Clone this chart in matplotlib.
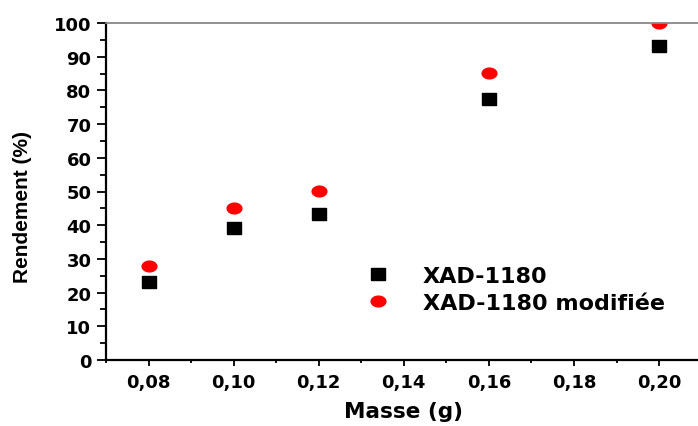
import numpy as np
import matplotlib
matplotlib.use("Agg")
import matplotlib.pyplot as plt
from matplotlib.ticker import MultipleLocator, FuncFormatter

plt.rcParams["font.family"] = ["DejaVu Sans"]
plt.rcParams["font.weight"] = "bold"

masse = [0.08, 0.10, 0.12, 0.16, 0.20]
rend_xad = [23.2, 39.2, 43.3, 77.4, 93.2]
rend_mod = [28.0, 45.1, 50.1, 85.2, 100.0]

# slightly stretched markers, as in the source picture
t = np.linspace(0, 2 * np.pi, 60)
ellipse = list(zip(1.33 * np.cos(t), np.sin(t)))
rect = [(-1.27, -1), (1.27, -1), (1.27, 1), (-1.27, 1), (-1.27, -1)]

fig = plt.figure(figsize=(6.98, 4.27), dpi=100)
ax = fig.add_axes([106 / 698, 66 / 427, (701.6 - 106) / 698, 337 / 427])

ax.plot(masse, rend_xad, ls="none", marker=rect, ms=10.1, color="black",
        label="XAD-1180")
ax.plot(masse, rend_mod, ls="none", marker=ellipse, ms=11.6, color="red",
        mec="none", label="XAD-1180 modifiée")

ax.set_xlim(0.07, 0.21)
ax.set_ylim(0, 100)
ax.xaxis.set_major_locator(MultipleLocator(0.02))
ax.xaxis.set_minor_locator(MultipleLocator(0.01))
ax.yaxis.set_major_locator(MultipleLocator(10))
ax.yaxis.set_minor_locator(MultipleLocator(5))
ax.xaxis.set_major_formatter(FuncFormatter(lambda v, p: f"{v:.2f}".replace(".", ",")))
ax.yaxis.set_major_formatter(FuncFormatter(lambda v, p: f"{v:.0f}"))
ax.tick_params(which="both", direction="out", width=1.3, labelsize=13)
ax.tick_params(axis="x", which="major", length=4.5, pad=5)
ax.tick_params(axis="x", which="minor", length=2.5)
ax.tick_params(axis="y", which="major", length=6.5, pad=4)
ax.tick_params(axis="y", which="minor", length=4.3)

for s in ("left", "bottom"):
    ax.spines[s].set_linewidth(1.6)
ax.spines["top"].set_color("#888888")
ax.spines["top"].set_linewidth(1.3)
ax.spines["right"].set_visible(False)

ax.set_xlabel("Masse (g)", fontsize=15.5, fontweight="bold", labelpad=7)
ax.set_ylabel("Rendement (%)", fontsize=15, fontweight="bold",
              family="Liberation Sans")
ax.yaxis.set_label_coords(-0.124, 0.457)

ax.legend(loc="upper left", bbox_to_anchor=(354 / 698, 1 - 256 / 427),
          bbox_transform=fig.transFigure, frameon=False,
          handletextpad=1.4, labelspacing=0.30, borderpad=0, handlelength=1.2,
          prop={"weight": "bold", "size": 16})

fig.savefig("out.png", dpi=100)
